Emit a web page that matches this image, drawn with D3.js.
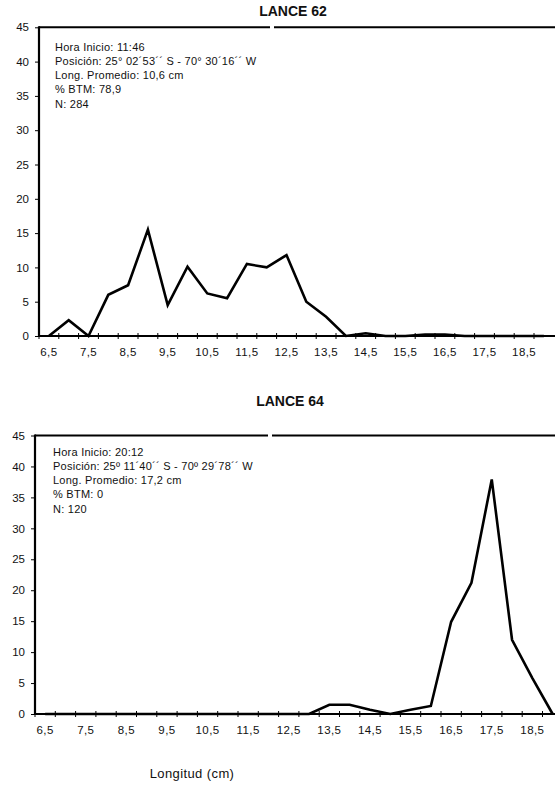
<!DOCTYPE html>
<html>
<head>
<meta charset="utf-8">
<script src="https://cdn.jsdelivr.net/npm/d3@7"></script>
<style>
  html, body { margin: 0; padding: 0; background: #fff; }
  svg text { font-family: "Liberation Sans", Arial, sans-serif; fill: #111; }
</style>
</head>
<body>
<svg id="chart" width="555" height="795"></svg>
<script>
// categorías de longitud (cm)
const categories = ["6,5","7","7,5","8","8,5","9","9,5","10","10,5","11","11,5","12","12,5",
  "13","13,5","14","14,5","15","15,5","16","16,5","17","17,5","18","18,5","19"];
const xLabels = ["6,5","7,5","8,5","9,5","10,5","11,5","12,5","13,5","14,5","15,5","16,5","17,5","18,5"];
const yTicks = [0, 5, 10, 15, 20, 25, 30, 35, 40, 45];

// frecuencia (%) por talla
const lance62 = [0, 2.3, 0, 6.0, 7.4, 15.5, 4.5, 10.1, 6.2, 5.5, 10.5, 10.0, 11.8,
  5.0, 2.8, 0, 0.4, 0, 0, 0.2, 0.2, 0, 0, 0, 0, 0];
const lance64 = [0, 0, 0, 0, 0, 0, 0, 0, 0, 0, 0, 0, 0,
  0, 1.5, 1.5, 0.7, 0, 0.7, 1.3, 14.9, 21.2, 37.9, 12.0, 5.8, 0];

const info62 = ["Hora Inicio: 11:46", "Posición: 25° 02´53´´ S - 70° 30´16´´ W",
  "Long. Promedio: 10,6 cm", "% BTM: 78,9", "N: 284"];
const info64 = ["Hora Inicio: 20:12", "Posición: 25º 11´40´´ S - 70º 29´78´´ W",
  "Long. Promedio: 17,2 cm", "% BTM: 0", "N: 120"];

const svg = d3.select("#chart");

function drawPanel(opt){
  const g = svg.append("g");

  const x = d3.scaleBand()
    .domain(categories)
    .range([opt.left, opt.left + categories.length * opt.band])
    .padding(0);

  const y = d3.scaleLinear()
    .domain([0, 45])
    .range([opt.bottom, opt.top]);

  // título
  g.append("text")
    .attr("x", opt.titleX)
    .attr("y", opt.titleY)
    .attr("text-anchor", "middle")
    .style("font-size", "14px")
    .style("font-weight", "bold")
    .text(opt.title);

  // borde superior
  g.append("line")
    .attr("x1", opt.left).attr("x2", 555)
    .attr("y1", y(45)).attr("y2", y(45))
    .attr("stroke", "#000").attr("stroke-width", 2);
  g.append("rect")
    .attr("x", opt.gapX).attr("y", y(45) - 2)
    .attr("width", 4).attr("height", 4)
    .attr("fill", "#fff");

  // eje Y
  const ya = g.append("g")
    .attr("transform", `translate(${opt.left},0)`)
    .call(d3.axisLeft(y).tickValues(yTicks).tickSize(4).tickPadding(6).tickFormat(d3.format("d")));
  ya.select(".domain").remove();
  ya.selectAll("line").attr("stroke", "#000").attr("stroke-width", 1);
  ya.selectAll("text").style("font-size", "11.5px").attr("fill", "#111");
  g.append("line")
    .attr("x1", opt.left).attr("x2", opt.left)
    .attr("y1", y(45) - 1).attr("y2", y(0) + 1)
    .attr("stroke", "#000").attr("stroke-width", 2.2);

  // eje X
  g.append("line")
    .attr("x1", opt.left).attr("x2", 555)
    .attr("y1", y(0)).attr("y2", y(0))
    .attr("stroke", "#000").attr("stroke-width", 2);

  g.selectAll(".xtick")
    .data(categories)
    .enter().append("line")
    .attr("class", "xtick")
    .attr("x1", d => x(d)).attr("x2", d => x(d))
    .attr("y1", y(0) - 3).attr("y2", y(0) + 3)
    .attr("stroke", "#000").attr("stroke-width", 1);

  const xa = g.append("g")
    .attr("transform", `translate(0,${y(0)})`)
    .call(d3.axisBottom(x).tickValues(xLabels).tickSize(0).tickPadding(opt.labelPad));
  xa.select(".domain").remove();
  xa.selectAll("text")
    .style("font-size", "11.5px")
    .style("letter-spacing", "0.4px")
    .attr("fill", "#111");

  // texto informativo
  g.selectAll(".info")
    .data(opt.info)
    .enter().append("text")
    .attr("class", "info")
    .attr("x", opt.infoX)
    .attr("y", (d, i) => opt.infoY + i * opt.infoStep)
    .style("font-size", "11px")
    .style("letter-spacing", "0.25px")
    .text(d => d);

  // curva
  const line = d3.line()
    .x((d, i) => x(categories[i]) + x.bandwidth() / 2)
    .y(d => y(d));

  g.append("path")
    .datum(opt.values)
    .attr("d", line)
    .attr("fill", "none")
    .attr("stroke", "#000")
    .attr("stroke-width", 2.6)
    .attr("stroke-linejoin", "miter");
}

drawPanel({
  title: "LANCE 62", titleX: 293, titleY: 16, gapX: 270,
  left: 39, band: 19.8, top: 27.3, bottom: 336,
  values: lance62, info: info62,
  infoX: 55, infoY: 50.5, infoStep: 14.3, labelPad: 12
});

drawPanel({
  title: "LANCE 64", titleX: 290, titleY: 406, gapX: 268,
  left: 35, band: 20.3, top: 435.5, bottom: 714,
  values: lance64, info: info64,
  infoX: 53, infoY: 455.5, infoStep: 14.3, labelPad: 12
});

svg.append("text")
  .attr("x", 192)
  .attr("y", 778)
  .attr("text-anchor", "middle")
  .style("font-size", "13px")
  .style("letter-spacing", "0.4px")
  .text("Longitud (cm)");
</script>
</body>
</html>
